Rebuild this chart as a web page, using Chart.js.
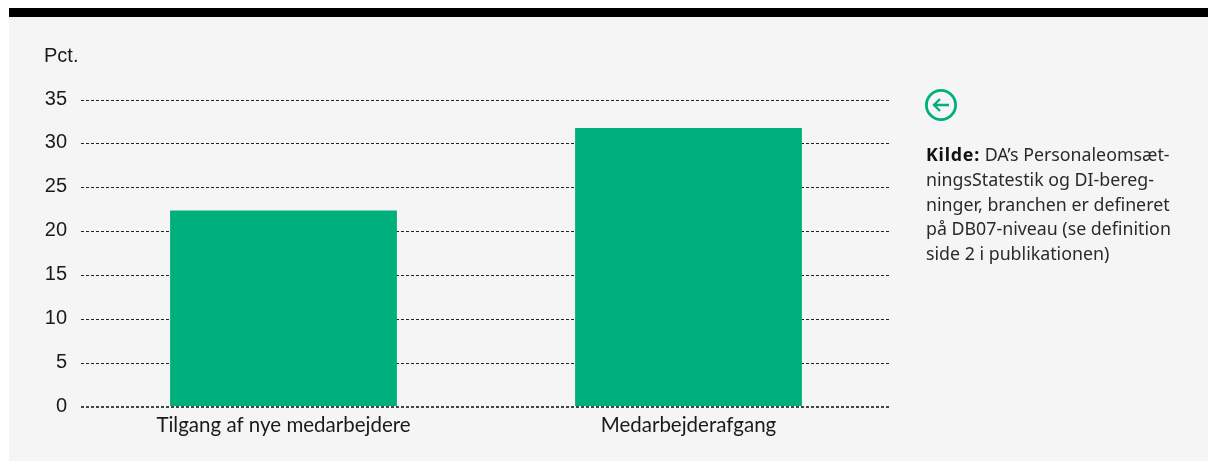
<!DOCTYPE html>
<html lang="da">
<head>
<meta charset="utf-8">
<title>Tilgang og afgang</title>
<script src="https://cdn.jsdelivr.net/npm/chart.js@4"></script>
<style>
  html, body { margin: 0; padding: 0; background: #fff; }
  #wrap { position: relative; width: 1208px; height: 461px; overflow: hidden; }
  #topbar { position: absolute; left: 9px; right: 0; top: 8px; height: 9px; background: #000; }
  #panel { position: absolute; left: 9px; right: 0; top: 17px; bottom: 0; background: #f5f5f5; }
  #liveChart { position: absolute; left: 0; top: 0; }
  #unit { position: absolute; left: 44px; top: 43px; font: 20px/24px "Liberation Sans", sans-serif; color: #1a1a1a; }
  #arrow { position: absolute; left: 925px; top: 89px; }
  #source { position: absolute; left: 926px; top: 142px; width: 275px; font: 17.8px/24.8px "Noto Sans", sans-serif; color: #2a2a2a; white-space: nowrap; }
  #source b { color: #111; letter-spacing: 0.8px; }
</style>
</head>
<body>
<div id="wrap">
  <div id="topbar"></div>
  <div id="panel"></div>
  <canvas id="liveChart" width="1208" height="461"></canvas>
  <div id="unit">Pct.</div>
  <svg id="arrow" width="32" height="32" viewBox="0 0 32 32" fill="none" stroke="#00b07c" stroke-width="2.4">
    <circle cx="16" cy="16" r="14.6" stroke-width="2.8"/>
    <path d="M24 16H9M15 10l-6 6 6 6"/>
  </svg>
  <div id="source"><b>Kilde:</b> DA’s Personaleomsæt-<br>ningsStatestik og DI-bereg-<br>ninger, branchen er defineret<br>på DB07-niveau (se definition<br>side 2 i publikationen)</div>
</div>
<script>
const categories = ['Tilgang af nye medarbejdere', 'Medarbejderafgang'];
const values = [22.4, 31.8];
const yMax = 35;
const yStep = 5;

new Chart(document.getElementById('liveChart'), {
    type: 'bar',
    data: {
        labels: categories,
        datasets: [{
            data: values,
            backgroundColor: '#00b07c',
            barPercentage: 0.56,
            categoryPercentage: 1
        }]
    },
    options: {
        responsive: false,
        animation: false,
        layout: { padding: { left: 1, top: 100, right: 317, bottom: 0 } },
        plugins: { legend: { display: false }, tooltip: { enabled: false } },
        scales: {
            x: {
                border: { display: false },
                grid: { display: false, drawTicks: false },
                ticks: {
                    color: '#1a1a1a',
                    padding: 6,
                    maxRotation: 0,
                    font: { family: '"Lato"', size: 20.5 }
                },
                afterFit(scale) { scale.height = 54; }
            },
            y: {
                min: 0,
                max: yMax,
                grid: {
                    // zero line is heavier
                    color: ctx => ctx.tick.value === 0 ? '#444' : '#222',
                    lineWidth: ctx => ctx.tick.value === 0 ? 2 : 1,
                    drawTicks: false
                },
                border: { display: false, dash: [3, 2] },
                ticks: {
                    stepSize: yStep,
                    color: '#1a1a1a',
                    padding: 14,
                    labelOffset: -1,
                    font: { family: '"Liberation Sans"', size: 20 }
                },
                afterFit(scale) { scale.width = 80; }
            }
        }
    }
});
</script>
</body>
</html>
